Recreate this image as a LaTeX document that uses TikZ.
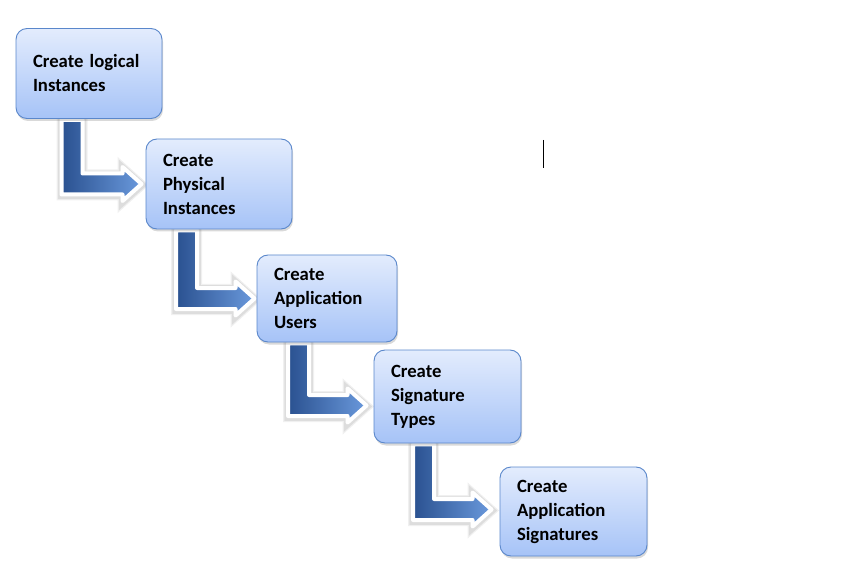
\documentclass[tikz,border=0pt]{standalone}
\usepackage{fontspec}
\setmainfont{Carlito}
\usetikzlibrary{calc,shadows,backgrounds}

\definecolor{boxtop}{HTML}{E3ECFD}
\definecolor{boxbot}{HTML}{A6C3F7}
\definecolor{boxline}{HTML}{5A87CB}
\definecolor{arrdark}{HTML}{2A5190}
\definecolor{arrlight}{HTML}{6A99DC}

\tikzset{
  stepbox/.style={rectangle,rounded corners=11pt,draw=boxline,line width=0.9pt,
    top color=boxtop,bottom color=boxbot,inner xsep=17pt,inner ysep=2pt,
    align=left,font=\fontsize{18.7}{24}\selectfont\bfseries,
    drop shadow={shadow xshift=1pt,shadow yshift=-2.5pt,opacity=0.3}},
  bentarrow/.style={draw=white,line width=4pt,line join=round,
    left color=arrdark,right color=arrlight,
    preaction={draw=black,draw opacity=0.06,line width=10pt,transform canvas={yshift=-1pt}},
    preaction={draw=black,draw opacity=0.08,line width=7.5pt,transform canvas={yshift=-1pt}}}
}

% from, to, shaft x, shift down of the arrow line, gap before the box
\newcommand{\stairarrow}[5]{%
  \filldraw[bentarrow] let \p1=(#1.south), \p2=(#2.west) in
    ({#3pt-10.5pt},{\y1-1pt}) -- ({#3pt+10.5pt},{\y1-1pt})
    -- ({#3pt+10.5pt},{\y2-#4pt+10.5pt}) -- ({\x2-#5pt-17pt},{\y2-#4pt+10.5pt})
    -- ({\x2-#5pt-17pt},{\y2-#4pt+17pt}) -- ({\x2-#5pt+2pt},{\y2-#4pt})
    -- ({\x2-#5pt-17pt},{\y2-#4pt-17pt}) -- ({\x2-#5pt-17pt},{\y2-#4pt-10.5pt})
    -- ({#3pt-10.5pt},{\y2-#4pt-10.5pt}) -- cycle;}

\begin{document}
\begin{tikzpicture}[x=1pt,y=-1pt]
\useasboundingbox (0,0) rectangle (841,580);

\node[stepbox,text width=112pt,minimum height=90pt] (logical)  at (89,73.5)     {Create logical\\Instances};
\node[stepbox,text width=112pt,minimum height=90pt] (physical) at (219,184)   {Create\\Physical\\Instances};
\node[stepbox,text width=106pt,minimum height=87pt] (users)    at (327,298.5) {Create\\Application\\Users};
\node[stepbox,text width=113pt,minimum height=93pt] (sigtypes) at (447.5,396.5) {Create\\Signature\\Types};
\node[stepbox,text width=113pt,minimum height=89pt] (appsigs)  at (573.5,511.5) {Create\\Application\\Signatures};

\begin{pgfonlayer}{background}
\stairarrow{logical}{physical}{72}{0}{6}
\stairarrow{physical}{users}{186.5}{0}{4}
\stairarrow{users}{sigtypes}{298.5}{9}{9}
\stairarrow{sigtypes}{appsigs}{423.5}{-2}{10}
\end{pgfonlayer}

\draw[line width=1pt] (543,140) -- (543,168);

\end{tikzpicture}
\end{document}
